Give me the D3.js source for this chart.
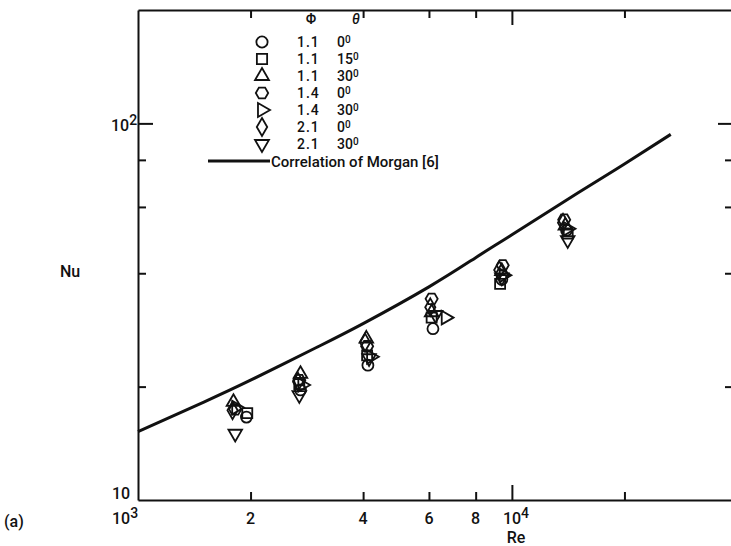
<!DOCTYPE html>
<meta charset="utf-8">
<style>
    body { margin: 0; background: #fff; }
    svg { display: block; }
    text {
        font-family: Roboto, "Liberation Sans", sans-serif;
        font-weight: 500;
        font-size: 16px;
        fill: #111;
    }
    .legend text { font-size: 14px; }
    .legend text.corr { font-size: 15px; }
    .axis path, .axis line { stroke: #111; stroke-width: 2px; }
    .marks path { fill: none; stroke: #111; stroke-width: 1.8px; }
</style>
<svg width="731" height="546"></svg>
<script src="https://d3js.org/d3.v7.min.js"></script>
<script>
    // Morgan correlation
    var corrRe = [1000, 1500, 2000, 3000, 4000, 6000, 8000, 10000, 15000, 20000, 26600];
    var corrNu = [15.2, 18.2, 20.8, 25.4, 29.4, 36.8, 44.0, 50.6, 65.3, 78.0, 93.5];

    // one array per symbol: [Re, Nu] pairs
    var circle11_0 = [[1950, 16.6], [2720, 19.6], [4120, 22.8], [6150, 28.5], [9400, 38.5], [14000, 52.0]];
    var square11_15 = [[1960, 17.0], [2700, 20.3], [4100, 24.2], [6100, 30.5], [9300, 37.5], [14100, 51.0]];
    var triUp11_30 = [[1800, 18.2], [2720, 21.6], [4080, 26.8], [6100, 31.5], [9400, 40.5], [13900, 53.5]];
    var hex14_0 = [[1820, 17.4], [2700, 20.8], [4100, 25.6], [6100, 34.2], [9450, 42.0], [13800, 55.5]];
    var triRight14_30 = [[1830, 17.6], [2750, 20.2], [4200, 24.0], [6650, 30.5], [9500, 39.5], [14100, 52.5]];
    var diamond21_0 = [[1790, 17.3], [2680, 20.6], [4050, 26.2], [6050, 32.5], [9250, 40.8], [13700, 54.5]];
    var triDown21_30 = [[1820, 15.0], [2700, 19.0], [4150, 23.8], [6250, 31.0], [9400, 39.0], [14100, 49.0]];

    var legendPhi = ["1.1", "1.1", "1.1", "1.4", "1.4", "2.1", "2.1"];
    var legendTheta = ["0", "15", "30", "0", "30", "0", "30"];

    var xTicksMinor = [2000, 4000, 6000, 8000, 20000];
    var xTicksMajor = [10000];
    var xTickLabels = [["2", 2000], ["4", 4000], ["6", 6000], ["8", 8000]];
    var yTicksMinor = [20, 40, 60, 80];
    var yTicksMajor = [100];

    var svg = d3.select("svg");

    var x = d3.scaleLog().domain([1000, 40000]).range([138, 737]);
    var y = d3.scaleLog().domain([10, 200]).range([500, 10]);

    var hexagon = {
        draw: function (ctx, size) {
            var r = Math.sqrt(size / 2.6);
            for (var i = 0; i < 6; i++) {
                var a = i * Math.PI / 3;
                if (i === 0) ctx.moveTo(r * Math.cos(a), r * Math.sin(a));
                else ctx.lineTo(r * Math.cos(a), r * Math.sin(a));
            }
            ctx.closePath();
        }
    };

    var series = [
        { data: circle11_0, type: d3.symbolCircle, size: 95, rot: 0 },
        { data: square11_15, type: d3.symbolSquare, size: 100, rot: 0 },
        { data: triUp11_30, type: d3.symbolTriangle, size: 80, rot: 0 },
        { data: hex14_0, type: hexagon, size: 95, rot: 0 },
        { data: triRight14_30, type: d3.symbolTriangle, size: 80, rot: 90 },
        { data: diamond21_0, type: d3.symbolDiamond, size: 90, rot: 0 },
        { data: triDown21_30, type: d3.symbolTriangle, size: 80, rot: 180 }
    ];

    // axes / frame
    function addAxis(axis, tx, ty) {
        var g = svg.append("g").attr("class", "axis")
            .attr("transform", "translate(" + tx + "," + ty + ")")
            .call(axis);
        g.selectAll("text").remove();
        return g;
    }
    // bottom
    addAxis(d3.axisTop(x).tickValues(xTicksMinor).tickSize(8).tickSizeOuter(0).tickFormat(""), 0, y(10));
    addAxis(d3.axisTop(x).tickValues(xTicksMajor).tickSize(15).tickSizeOuter(0).tickFormat(""), 0, y(10)).select(".domain").remove();
    // top
    addAxis(d3.axisBottom(x).tickValues(xTicksMinor).tickSize(8).tickSizeOuter(0).tickFormat(""), 0, y(200));
    addAxis(d3.axisBottom(x).tickValues(xTicksMajor).tickSize(15).tickSizeOuter(0).tickFormat(""), 0, y(200)).select(".domain").remove();
    // left
    addAxis(d3.axisRight(y).tickValues(yTicksMinor).tickSize(8).tickSizeOuter(0).tickFormat(""), x(1000), 0);
    addAxis(d3.axisRight(y).tickValues(yTicksMajor).tickSize(15).tickSizeOuter(0).tickFormat(""), x(1000), 0).select(".domain").remove();
    // right
    addAxis(d3.axisLeft(y).tickValues(yTicksMinor).tickSize(12).tickSizeOuter(0).tickFormat(""), x(40000), 0);
    addAxis(d3.axisLeft(y).tickValues(yTicksMajor).tickSize(19).tickSizeOuter(0).tickFormat(""), x(40000), 0).select(".domain").remove();

    // correlation curve
    var line = d3.line()
        .x(function (d, i) { return x(corrRe[i]); })
        .y(function (d) { return y(d); })
        .curve(d3.curveNatural);
    svg.append("path")
        .attr("d", line(corrNu))
        .attr("fill", "none")
        .attr("stroke", "#111")
        .attr("stroke-width", 3);

    // data symbols
    var marks = svg.append("g").attr("class", "marks");
    series.forEach(function (s) {
        marks.selectAll(null)
            .data(s.data)
            .enter().append("path")
            .attr("transform", function (d) {
                return "translate(" + x(d[0]) + "," + y(d[1]) + ") rotate(" + s.rot + ")";
            })
            .attr("d", d3.symbol().type(s.type).size(s.size));
    });

    // tick labels
    function powerLabel(tx, ty, base, exp, anchor) {
        var t = svg.append("text").attr("x", tx).attr("y", ty).attr("text-anchor", anchor || "start");
        t.append("tspan").text(base);
        if (exp) t.append("tspan").attr("dy", -6).attr("font-size", 14).text(exp);
        return t;
    }
    powerLabel(x(1000) - 26, 524, "10", "3");
    powerLabel(x(10000) - 9, 524, "10", "4");
    xTickLabels.forEach(function (d) {
        svg.append("text").attr("x", x(d[1])).attr("y", 524).attr("text-anchor", "middle").text(d[0]);
    });
    powerLabel(x(1000) - 27, y(100) + 8, "10", "2");
    powerLabel(x(1000) - 26, y(10) - 1, "10");

    svg.append("text").attr("x", 516).attr("y", 543).attr("text-anchor", "middle").text("Re");
    svg.append("text").attr("x", 60).attr("y", 277).text("Nu");
    svg.append("text").attr("x", 4).attr("y", 527).text("(a)");

    // legend
    var legend = svg.append("g").attr("class", "legend");
    var legendMarks = legend.append("g").attr("class", "marks");
    legend.append("text").attr("x", 311).attr("y", 24).attr("text-anchor", "middle").text("\u03A6");
    legend.append("text").attr("x", 356).attr("y", 24).attr("text-anchor", "middle").attr("font-style", "italic").text("\u03B8");
    series.forEach(function (s, i) {
        var ly = 42 + i * 17;
        legendMarks.append("path")
            .attr("transform", "translate(262," + ly + ") rotate(" + s.rot + ")")
            .attr("d", d3.symbol().type(s.type).size(s.size * 1.05));
        legend.append("text").attr("x", 297).attr("y", ly + 5).attr("letter-spacing", 1).text(legendPhi[i]);
        var t = legend.append("text").attr("x", 337).attr("y", ly + 5);
        t.append("tspan").text(legendTheta[i]);
        t.append("tspan").attr("dy", -4).attr("font-size", 10).text("0");
    });
    legend.append("line")
        .attr("x1", 208).attr("x2", 270)
        .attr("y1", 161).attr("y2", 161)
        .attr("stroke", "#111").attr("stroke-width", 3);
    legend.append("text").attr("class", "corr").attr("x", 271).attr("y", 167).text("Correlation of Morgan [6]");
</script>
